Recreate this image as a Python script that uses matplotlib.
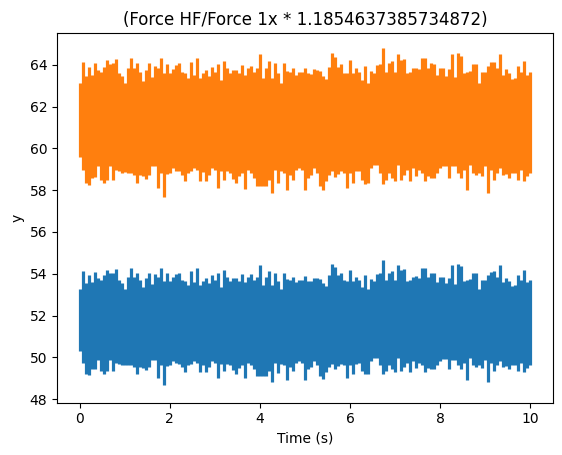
import numpy as np
import matplotlib
matplotlib.use("Agg")
import matplotlib.pyplot as plt

# peaks and troughs of the two force traces
force_1x_upper = [
    53.25,54.13,53.54,53.92,53.59,54.09,53.79,53.72,53.92,54.19,
    54.03,54.06,54.22,53.68,53.54,53.25,53.86,54.26,53.86,54.06,
    53.72,53.36,53.79,54.06,53.49,53.97,53.86,54.29,53.65,54.02,
    53.65,53.83,53.99,54.06,53.72,53.65,53.45,54.13,53.59,54.26,
    53.45,53.65,53.79,53.54,53.92,53.72,54.03,53.38,54.17,53.86,
    53.65,53.79,53.79,53.65,53.99,53.59,53.86,53.97,53.72,53.86,
    54.44,53.45,53.86,54.14,53.45,54.06,53.65,53.25,54.06,53.75,
    53.72,53.86,53.59,53.72,53.72,53.88,53.65,53.63,53.82,53.79,
    53.75,53.54,53.41,53.92,54.46,54.33,53.92,54.03,53.68,53.65,
    54.19,53.65,53.86,53.72,53.38,53.95,53.27,53.76,53.65,53.99,
    54.03,54.67,53.72,54.06,54.14,53.72,54.44,54.19,54.22,53.65,
    53.72,53.86,53.88,53.82,54.26,54.29,53.86,54.06,54.03,53.59,
    53.86,53.86,53.54,53.82,54.44,53.52,54.49,54.37,53.65,53.72,
    53.76,54.03,54.03,53.25,53.72,53.72,53.95,54.10,54.13,53.86,
    54.44,53.59,53.82,53.65,53.41,53.45,53.95,53.72,54.17,53.59,53.72,
]
force_1x_lower = [
    50.28,49.75,49.21,49.15,49.42,49.46,49.89,49.35,49.21,49.32,
    49.89,49.32,49.75,49.69,49.62,49.64,49.62,49.62,49.55,49.21,
    49.55,49.48,49.37,49.55,49.89,49.89,49.01,49.62,48.67,49.58,
    49.62,49.82,49.72,49.69,49.55,49.31,49.62,49.69,49.82,49.75,
    49.28,49.64,49.31,49.55,49.82,49.75,49.01,49.69,49.32,49.69,
    49.62,49.37,49.21,49.48,49.62,48.99,49.75,49.62,49.42,49.10,
    49.10,49.08,49.08,49.35,48.81,49.75,49.24,49.69,49.62,48.92,
    49.55,49.35,49.75,49.82,49.75,48.92,49.42,49.55,49.82,49.62,
    49.10,48.94,49.28,49.55,49.69,49.46,49.58,49.69,49.62,49.01,
    49.62,49.21,49.69,49.72,49.35,49.19,49.21,49.82,49.96,49.96,
    49.62,49.19,49.35,49.62,49.42,49.28,49.96,49.35,49.55,49.75,
    49.28,49.82,49.48,49.75,49.62,49.28,49.48,49.42,49.42,49.62,
    49.82,49.91,49.91,49.42,49.89,49.89,49.62,49.42,49.75,48.92,
    49.96,49.62,49.55,49.62,49.48,49.89,48.81,49.75,49.32,49.62,
    49.82,49.55,49.58,49.42,49.62,49.62,49.35,49.75,49.28,49.48,49.62,
]
force_hf_upper = [
    63.12,64.16,63.47,63.92,63.52,64.11,63.76,63.68,63.92,64.24,
    64.05,64.08,64.27,63.63,63.47,63.12,63.84,64.32,63.84,64.08,
    63.68,63.25,63.76,64.08,63.41,63.97,63.84,64.35,63.60,64.03,
    63.60,63.81,64.00,64.08,63.68,63.60,63.36,64.16,63.52,64.32,
    63.36,63.60,63.76,63.47,63.92,63.68,64.05,63.28,64.21,63.84,
    63.60,63.76,63.76,63.60,64.00,63.52,63.84,63.97,63.68,63.84,
    64.53,63.36,63.84,64.18,63.36,64.08,63.60,63.12,64.08,63.71,
    63.68,63.84,63.52,63.68,63.68,63.87,63.60,63.57,63.79,63.76,
    63.71,63.47,63.31,63.92,64.56,64.40,63.92,64.05,63.63,63.60,
    64.24,63.60,63.84,63.68,63.28,63.95,63.15,63.73,63.60,64.00,
    64.05,64.80,63.68,64.08,64.18,63.68,64.53,64.24,64.27,63.60,
    63.68,63.84,63.87,63.79,64.32,64.35,63.84,64.08,64.05,63.52,
    63.84,63.84,63.47,63.79,64.53,63.44,64.59,64.45,63.60,63.68,
    63.73,64.05,64.05,63.12,63.68,63.68,63.95,64.13,64.16,63.84,
    64.53,63.52,63.79,63.60,63.31,63.36,63.95,63.68,64.21,63.52,63.68,
]
force_hf_lower = [
    59.61,58.98,58.34,58.26,58.58,58.63,59.14,58.50,58.34,58.47,
    59.14,58.47,58.98,58.90,58.82,58.85,58.82,58.82,58.74,58.34,
    58.74,58.66,58.53,58.74,59.14,59.14,58.10,58.82,57.70,58.78,
    58.82,59.06,58.94,58.90,58.74,58.45,58.82,58.90,59.06,58.98,
    58.42,58.85,58.45,58.74,59.06,58.98,58.10,58.90,58.47,58.90,
    58.82,58.53,58.34,58.66,58.82,58.07,58.98,58.82,58.58,58.21,
    58.21,58.18,58.18,58.50,57.86,58.98,58.37,58.90,58.82,57.99,
    58.74,58.50,58.98,59.06,58.98,57.99,58.58,58.74,59.06,58.82,
    58.21,58.02,58.42,58.74,58.90,58.63,58.78,58.90,58.82,58.10,
    58.82,58.34,58.90,58.94,58.50,58.31,58.34,59.06,59.22,59.22,
    58.82,58.31,58.50,58.82,58.58,58.42,59.22,58.50,58.74,58.98,
    58.42,59.06,58.66,58.98,58.82,58.42,58.66,58.58,58.58,58.82,
    59.06,59.17,59.17,58.58,59.14,59.14,58.82,58.58,58.98,57.99,
    59.22,58.82,58.74,58.82,58.66,59.14,57.86,58.98,58.47,58.82,
    59.06,58.74,58.78,58.58,58.82,58.82,58.50,58.98,58.42,58.66,58.82,
]
time_s = np.linspace(0, 10, len(force_1x_upper))

fig = plt.figure(figsize=(5.62, 4.55), dpi=100)
ax = fig.add_axes([57 / 562, 1 - 402.6 / 455, 496 / 562, 369.6 / 455])

# the traces are too dense to see single samples, only the band they fill
ax.vlines(time_s, force_1x_lower, force_1x_upper, colors="C0", lw=2.3)
ax.vlines(time_s, force_hf_lower, force_hf_upper, colors="C1", lw=2.3)

ax.set_xlim(-0.5, 10.5)
ax.set_ylim(47.83, 65.53)
ax.set_title("(Force HF/Force 1x * 1.1854637385734872)")
ax.set_xlabel("Time (s)")
ax.set_ylabel("y")

fig.savefig("out.png", dpi=100)
